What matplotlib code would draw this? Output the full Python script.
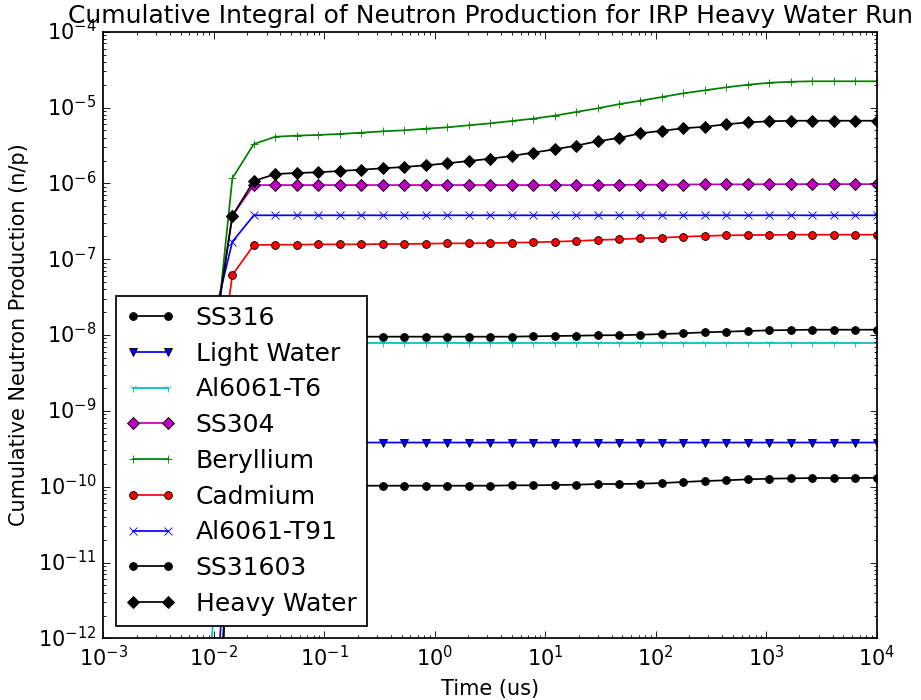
import matplotlib
matplotlib.use("Agg")
import matplotlib.pyplot as plt

plt.style.use("classic")

# time grid (us)
tiempo = [0.00942, 0.01472, 0.02301, 0.03606, 0.05636, 0.08831, 0.1380, 0.2158,
          0.3381, 0.5284, 0.8279, 1.294, 2.023, 3.170, 4.955, 7.762, 12.13,
          18.97, 29.72, 46.45, 72.78, 113.8, 177.8, 278.6, 435.5, 682.3, 1067,
          1667, 2612, 4083, 6397, 10000]

ss316 = [1.3e-18, 9.5e-9, 9.5e-9, 9.5e-9, 9.5e-9, 9.5e-9, 9.5e-9, 9.5e-9,
         9.51e-9, 9.51e-9, 9.51e-9, 9.51e-9, 9.51e-9, 9.51e-9, 9.51e-9, 9.62e-9,
         9.70e-9, 9.79e-9, 9.91e-9, 9.95e-9, 1.009e-8, 1.030e-8, 1.054e-8, 1.086e-8,
         1.107e-8, 1.130e-8, 1.153e-8, 1.164e-8, 1.175e-8, 1.175e-8, 1.175e-8, 1.175e-8]

light_water = [1.3e-14] + [3.82e-10] * 31

al6061_t6 = [6.8e-13] + [7.85e-9] * 31

ss304 = [5.0e-9, 3.74e-7, 9.5e-7, 9.5e-7, 9.5e-7, 9.5e-7, 9.5e-7, 9.5e-7,
         9.5e-7, 9.5e-7, 9.5e-7, 9.5e-7, 9.5e-7, 9.5e-7, 9.5e-7, 9.5e-7, 9.5e-7,
         9.5e-7, 9.5e-7, 9.55e-7, 9.6e-7, 9.6e-7, 9.65e-7, 9.7e-7, 9.7e-7, 9.7e-7,
         9.75e-7, 9.75e-7, 9.77e-7, 9.77e-7, 9.77e-7, 9.77e-7]

beryllium = [2.2e-9, 1.167e-6, 3.30e-6, 4.12e-6, 4.26e-6, 4.35e-6, 4.48e-6, 4.66e-6,
             4.86e-6, 5.01e-6, 5.26e-6, 5.48e-6, 5.83e-6, 6.19e-6, 6.64e-6, 7.13e-6,
             7.80e-6, 8.73e-6, 9.77e-6, 1.107e-5, 1.230e-5, 1.377e-5, 1.542e-5,
             1.687e-5, 1.849e-5, 2.00e-5, 2.12e-5, 2.19e-5, 2.22e-5, 2.22e-5,
             2.22e-5, 2.22e-5]

cadmium = [5.6e-10, 6.19e-8, 1.538e-7, 1.552e-7, 1.552e-7, 1.570e-7, 1.570e-7,
           1.570e-7, 1.585e-7, 1.585e-7, 1.600e-7, 1.618e-7, 1.618e-7, 1.633e-7,
           1.652e-7, 1.667e-7, 1.702e-7, 1.738e-7, 1.791e-7, 1.828e-7, 1.884e-7,
           1.919e-7, 1.982e-7, 2.023e-7, 2.065e-7, 2.084e-7, 2.084e-7, 2.104e-7,
           2.104e-7, 2.104e-7, 2.104e-7, 2.104e-7]

al6061_t91 = [1.15e-8, 1.70e-7] + [3.79e-7] * 30

ss31603 = [2.5e-15, 1.03e-10, 1.03e-10, 1.03e-10, 1.03e-10, 1.03e-10, 1.03e-10,
           1.03e-10, 1.03e-10, 1.03e-10, 1.03e-10, 1.03e-10, 1.03e-10, 1.03e-10,
           1.042e-10, 1.042e-10, 1.052e-10, 1.062e-10, 1.084e-10, 1.084e-10,
           1.094e-10, 1.117e-10, 1.153e-10, 1.189e-10, 1.213e-10, 1.250e-10,
           1.274e-10, 1.288e-10, 1.300e-10, 1.300e-10, 1.300e-10, 1.31e-10]

heavy_water = [5.0e-9, 3.74e-7, 1.074e-6, 1.327e-6, 1.371e-6, 1.400e-6, 1.455e-6,
               1.514e-6, 1.581e-6, 1.644e-6, 1.73e-6, 1.837e-6, 1.972e-6, 2.11e-6,
               2.30e-6, 2.54e-6, 2.81e-6, 3.14e-6, 3.59e-6, 3.98e-6, 4.57e-6, 4.94e-6,
               5.32e-6, 5.58e-6, 6.01e-6, 6.38e-6, 6.58e-6, 6.70e-6, 6.70e-6, 6.70e-6,
               6.70e-6, 6.70e-6]

series = [
    ("SS316", ss316, "ko-"),
    ("Light Water", light_water, "bv-"),
    ("Al6061-T6", al6061_t6, "c1-"),
    ("SS304", ss304, "mD-"),
    ("Beryllium", beryllium, "g+-"),
    ("Cadmium", cadmium, "ro-"),
    ("Al6061-T91", al6061_t91, "bx-"),
    ("SS31603", ss31603, "ko-"),
    ("Heavy Water", heavy_water, "kD-"),
]

fig = plt.figure(figsize=(921 / 125, 700 / 125), dpi=125, facecolor="white")
ax = fig.add_axes([0.1122, 0.0881, 0.8397, 0.8666])

for nombre, valores, estilo in series:
    ax.plot(tiempo, valores, estilo, label=nombre, markersize=4.5)

ax.set_xscale("log")
ax.set_yscale("log")
ax.set_xlim(1e-3, 1e4)
ax.set_ylim(1e-12, 1e-4)
ax.set_title("Cumulative Integral of Neutron Production for IRP Heavy Water Run")
ax.set_xlabel("Time (us)")
ax.set_ylabel("Cumulative Neutron Production (n/p)")
ax.legend(loc="lower left", labelspacing=0.47)

fig.savefig("out.png", dpi=125, facecolor="white")
